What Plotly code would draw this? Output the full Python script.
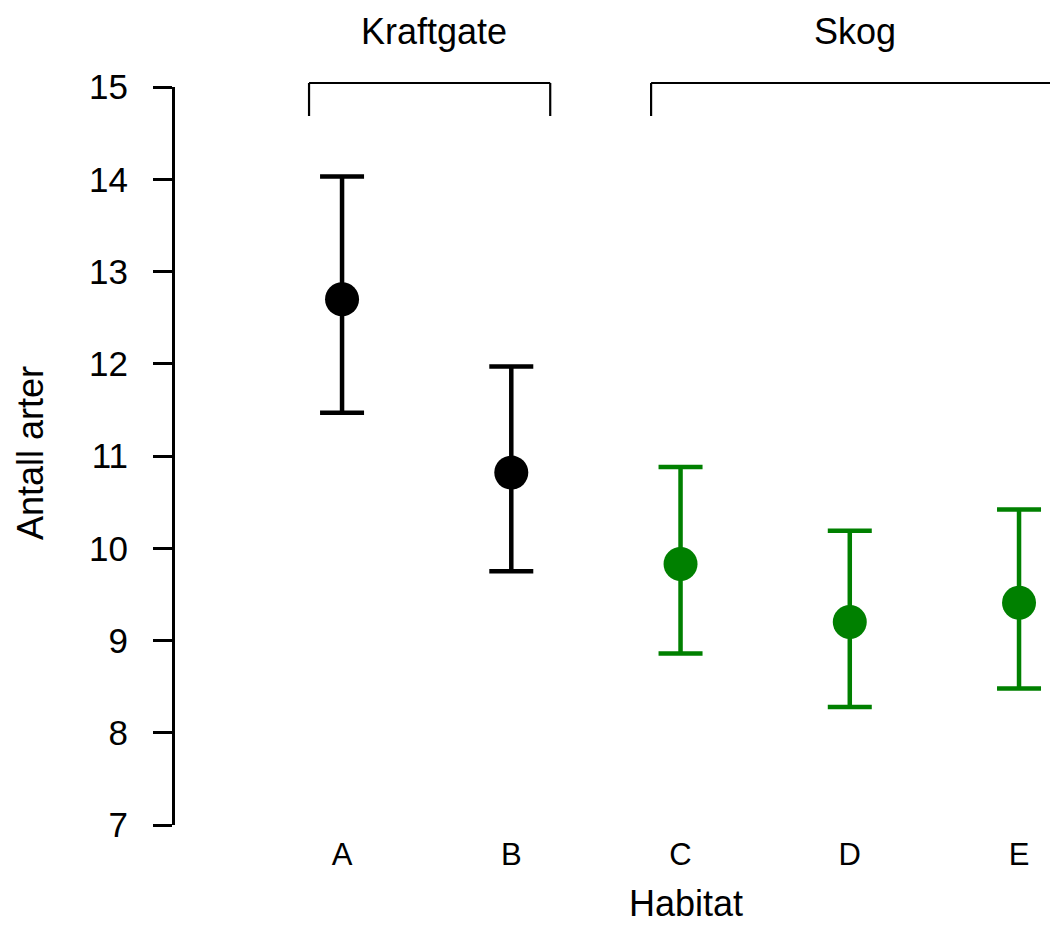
import plotly.graph_objects as go

categories = ["A", "B", "C", "D", "E"]
means = [12.70, 10.82, 9.83, 9.20, 9.41]
upper = [14.03, 11.97, 10.88, 10.19, 10.42]
lower = [11.47, 9.75, 8.86, 8.28, 8.48]
colors = ["black", "black", "#008000", "#008000", "#008000"]
groups = [("Kraftgate", 0.805, 2.23), ("Skog", 2.826, 5.6)]

FONT = "Liberation Sans, Arial, sans-serif"
xpos = list(range(1, len(categories) + 1))

fig = go.Figure()
for i, c in enumerate(categories):
    fig.add_trace(go.Scatter(
        x=[xpos[i]], y=[means[i]], mode="markers",
        marker=dict(size=34, color=colors[i], line=dict(width=0)),
        error_y=dict(type="data", symmetric=False,
                     array=[upper[i] - means[i]], arrayminus=[means[i] - lower[i]],
                     color=colors[i], thickness=4.5, width=22),
        showlegend=False, cliponaxis=False,
    ))

# group brackets
y_top, y_leg = 1.0054, 0.9607
for name, x0, x1 in groups:
    fig.add_shape(type="line", xref="x", yref="paper", x0=x0, x1=x1, y0=y_top, y1=y_top,
                  line=dict(color="black", width=2.2))
    fig.add_shape(type="line", xref="x", yref="paper", x0=x0, x1=x0, y0=y_top, y1=y_leg,
                  line=dict(color="black", width=2.2))
    if x1 < 5.2:
        fig.add_shape(type="line", xref="x", yref="paper", x0=x1, x1=x1, y0=y_top, y1=y_leg,
                      line=dict(color="black", width=2.2))

W, H = 1050, 925
L, R, T, B = 175, 0, 87, 100
pw, ph = W - L - R, H - T - B

def px_to_paper(px, py):
    return (px - L) / pw, (H - B - py) / ph

annots = [("Kraftgate", 434, 32, 36, 0), ("Skog", 855, 32, 36, 0),
          ("Habitat", 686, 903, 36, 0), ("Antall arter", 30, 453, 36, -90)]
for text, px, py, size, ang in annots:
    ax, ay = px_to_paper(px, py)
    fig.add_annotation(text=text, x=ax, y=ay, xref="paper", yref="paper",
                       showarrow=False, textangle=ang,
                       xanchor="center", yanchor="middle",
                       font=dict(size=size, color="black", family=FONT))

fig.update_layout(
    width=W, height=H,
    margin=dict(l=L, r=R, t=T, b=B, pad=0),
    paper_bgcolor="white", plot_bgcolor="white",
    font=dict(family=FONT, color="black"),
    xaxis=dict(range=[0.013, 5.183], tickmode="array", tickvals=xpos, ticktext=categories,
               showgrid=False, zeroline=False, showline=False, ticks="",
               tickfont=dict(size=31), ticklabelstandoff=8, fixedrange=True),
    yaxis=dict(range=[7, 15], tickmode="array", tickvals=list(range(7, 16)),
               showgrid=False, zeroline=False, showline=True, linecolor="black", linewidth=3,
               ticks="outside", ticklen=19, tickwidth=3, tickcolor="black",
               tickfont=dict(size=35), ticklabelstandoff=18, fixedrange=True),
)

fig.write_html("out.html", config={"displayModeBar": False},
               post_script="document.body.style.margin='0';document.body.style.overflow='hidden';")
